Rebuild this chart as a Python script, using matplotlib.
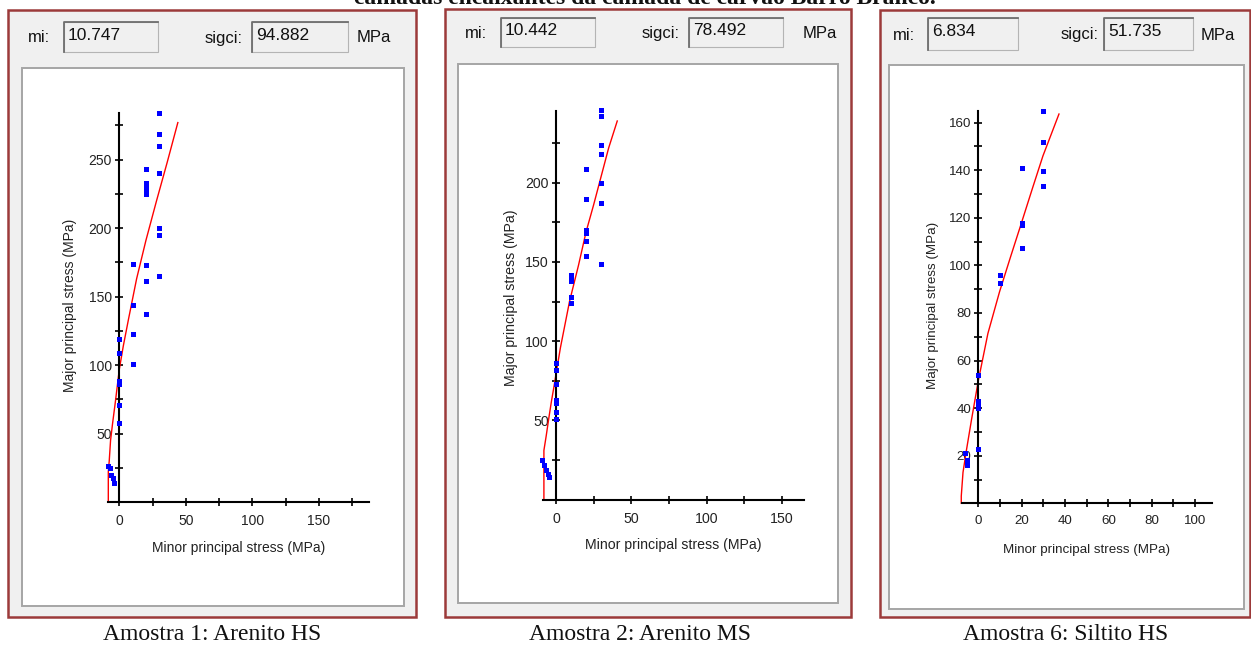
import matplotlib.pyplot as plt
from matplotlib.patches import Rectangle
from matplotlib.lines import Line2D
from matplotlib.ticker import MultipleLocator

W, H = 1251, 649

# ---- data ----
titles = ["Amostra 1: Arenito HS", "Amostra 2: Arenito MS", "Amostra 6: Siltito HS"]
mi_vals = ["10.747", "10.442", "6.834"]
sigci_vals = ["94.882", "78.492", "51.735"]

# sample 1
s3_1 = [30, 30, 30, 30, 30, 30, 30,
        20, 20, 20, 20, 20, 20, 20, 20,
        10, 10, 10, 10,
        0, 0, 0, 0, 0, 0,
        -8.3, -7.3, -6.2, -5, -4]
s1_1 = [284, 269, 260, 240, 200, 195, 165,
        243, 233, 230, 228, 225, 173, 161, 137,
        174, 144, 123, 101,
        119, 109, 88, 86, 71, 58,
        26.5, 25, 20, 17.5, 14]
fit_x_1 = [-8.3, -8.3, -7.6, -6.6, -5, -3, -1.5, 0, 3, 7, 13, 20, 28, 36, 44]
fit_y_1 = [0, 22, 30, 45, 58, 73, 85, 97, 114, 134, 163, 191, 220, 248, 277]

# sample 2
s3_2 = [30, 30, 30, 30, 30, 30, 30,
        20, 20, 20, 20, 20, 20,
        10, 10, 10, 10, 10,
        0, 0, 0, 0, 0, 0, 0,
        -9, -8.2, -6.8, -5.5, -4.4]
s1_2 = [246, 242, 224, 218, 200, 187, 149,
        209, 190, 170, 168, 163, 154,
        142, 140, 138, 128, 124,
        86, 82, 73, 63, 61, 55, 51,
        25, 22, 18.6, 16, 14.4]
fit_x_2 = [-8, -8, -6.5, -4.8, -3, -1, 0, 3, 9, 15, 20, 25, 30, 35, 40.7]
fit_y_2 = [0, 31, 40, 51, 62, 73, 79, 96, 125, 148, 169, 186, 204, 222, 239]

# sample 6
s3_3 = [30, 30, 30, 30,
        20, 20, 20, 20,
        10, 10,
        0, 0, 0, 0, 0,
        -6.2, -5.4, -5.3]
s1_3 = [165, 152, 139.5, 133.5,
        141, 118, 117, 107.5,
        96, 92.5,
        54, 43, 41.5, 40, 22.7,
        21.3, 18.2, 16]
fit_x_3 = [-7.9, -7.9, -7.1, -5.5, -3.2, 0, 4.4, 9.8, 15, 19.8, 25, 29.8, 37.2]
fit_y_3 = [0, 3, 13, 22.4, 35, 51.7, 71.4, 89, 104, 117.6, 132.5, 146, 163.6]

xticks = [[0, 50, 100, 150], [0, 50, 100, 150], [0, 20, 40, 60, 80, 100]]
yticks = [[50, 100, 150, 200, 250], [50, 100, 150, 200], [20, 40, 60, 80, 100, 120, 140, 160]]
minor_step_x = [25, 25, 10]
minor_step_y = [25, 25, 10]

points = [(s3_1, s1_1), (s3_2, s1_2), (s3_3, s1_3)]
fits = [(fit_x_1, fit_y_1), (fit_x_2, fit_y_2), (fit_x_3, fit_y_3)]

# ---- layout in screenshot pixels ----
layout = [
    dict(frame=(8, 10, 416, 617), inner=(22, 68, 404, 606),
         mi_lab=28, mi_box=(64, 22, 158, 52), sg_lab=205, sg_box=(252, 22, 348, 52), mpa=357,
         ax=(108.3, 369.3, 113, 502), xlim=(-8.3, 188), ylim=(0, 284),
         xlab=(239, 548), ylab=(70, 305), fs=10, cap=212),
    dict(frame=(445, 9, 851, 617), inner=(458, 64, 838, 603),
         mi_lab=465, mi_box=(501, 18, 595, 47), sg_lab=642, sg_box=(689, 18, 783, 47), mpa=803,
         ax=(543.3, 804, 110.7, 499.5), xlim=(-8.4, 164.7), ylim=(0, 245.5),
         xlab=(673, 545), ylab=(511, 298), fs=10.2, cap=640),
    dict(frame=(880, 10, 1250, 617), inner=(889, 65, 1244, 609),
         mi_lab=893, mi_box=(928, 18, 1018, 50), sg_lab=1061, sg_box=(1104, 18, 1193, 50), mpa=1201,
         ax=(961.7, 1211.7, 110.7, 503.3), xlim=(-7.7, 107.7), ylim=(0, 165),
         xlab=(1087, 550), ylab=(933, 305), fs=9.6, cap=1066),
]

plt.rcParams['font.family'] = ['Liberation Sans', 'DejaVu Sans']

fig = plt.figure(figsize=(W / 100, H / 100), dpi=100)


def fx(x):
    return x / W


def fy(y):
    return 1 - y / H


def box(x0, y0, x1, y1, z=-2, **kw):
    r = Rectangle((fx(x0), fy(y1)), (x1 - x0) / W, (y1 - y0) / H,
                  transform=fig.transFigure, zorder=z, **kw)
    fig.add_artist(r)


def line(xs, ys, **kw):
    fig.add_artist(Line2D([fx(v) for v in xs], [fy(v) for v in ys],
                          transform=fig.transFigure, **kw))


def sunken(x0, y0, x1, y1):
    box(x0, y0, x1, y1, z=-1, facecolor='#f0f0f0', edgecolor='#b4b4b4', lw=0.8)
    line([x0, x0, x1], [y1, y0, y0], color='#6e6e6e', lw=1.3, zorder=-0.5)


# heading line of the document page, cut by the top edge as in the screenshot
fig.text(fx(645), fy(4), "camadas encaixantes da camada de carvão Barro Branco.",
         ha='center', va='baseline', fontsize=17, fontweight='bold',
         family='Liberation Serif', color='#111111')

for i, L in enumerate(layout):
    x0, y0, x1, y1 = L['frame']
    box(x0, y0, x1, y1, z=-3, facecolor='#f0f0f0', edgecolor='#9c3a3a', lw=1.8)
    ix0, iy0, ix1, iy1 = L['inner']
    box(ix0, iy0, ix1, iy1, z=-2, facecolor='white', edgecolor='#a5a5a5', lw=1.4)

    # header: mi and sigci fields
    yc = (L['mi_box'][1] + L['mi_box'][3]) / 2
    fig.text(fx(L['mi_lab']), fy(yc + 1), "mi:", ha='left', va='center', fontsize=12, color='#111111')
    sunken(*L['mi_box'])
    fig.text(fx(L['mi_box'][0] + 4), fy(yc - 2), mi_vals[i], ha='left', va='center',
             fontsize=12.5, color='#111111')
    fig.text(fx(L['sg_lab']), fy(yc + 1), "sigci:", ha='left', va='center', fontsize=12, color='#111111')
    sunken(*L['sg_box'])
    fig.text(fx(L['sg_box'][0] + 4), fy(yc - 2), sigci_vals[i], ha='left', va='center',
             fontsize=12.5, color='#111111')
    fig.text(fx(L['mpa']), fy(yc + 1), "MPa", ha='left', va='center', fontsize=12, color='#111111')

    # plot
    ax_x0, ax_x1, ax_ytop, ax_ybot = L['ax']
    ax = fig.add_axes([fx(ax_x0), fy(ax_ybot), (ax_x1 - ax_x0) / W, (ax_ybot - ax_ytop) / H])
    ax.set_zorder(1)
    ax.patch.set_visible(False)
    ax.set_xlim(*L['xlim'])
    ax.set_ylim(*L['ylim'])
    for s in ['top', 'right']:
        ax.spines[s].set_visible(False)
    ax.spines['left'].set_position(('data', 0))
    for s in ['left', 'bottom']:
        ax.spines[s].set_linewidth(1.5)
        ax.spines[s].set_color('black')

    ax.set_xticks(xticks[i])
    ax.set_yticks(yticks[i])
    ax.xaxis.set_minor_locator(MultipleLocator(minor_step_x[i]))
    ax.yaxis.set_minor_locator(MultipleLocator(minor_step_y[i]))
    ax.tick_params(which='both', direction='inout', length=5.5, width=1.2, color='black')
    ax.tick_params(axis='x', which='major', pad=6, labelsize=L['fs'], labelcolor='#222222')
    ax.tick_params(axis='y', which='major', pad=2.5, labelsize=L['fs'], labelcolor='#222222')

    fx_, fy_ = fits[i]
    ax.plot(fx_, fy_, color='#ff0000', lw=1.0, clip_on=False, zorder=2)
    px, py = points[i]
    ax.plot(px, py, ls='none', marker='s', ms=3.6, mew=0, color='#0000ff',
            clip_on=False, zorder=3)

    fig.text(fx(L['xlab'][0]), fy(L['xlab'][1]), "Minor principal stress (MPa)",
             ha='center', va='center', fontsize=L['fs'], color='#222222')
    fig.text(fx(L['ylab'][0]), fy(L['ylab'][1]), "Major principal stress (MPa)",
             ha='center', va='center', rotation=90, fontsize=L['fs'], color='#222222')

    fig.text(fx(L['cap']), fy(634), titles[i], ha='center', va='center',
             fontsize=17, family='Liberation Serif', color='#111111')

fig.savefig("out.png", dpi=100)
